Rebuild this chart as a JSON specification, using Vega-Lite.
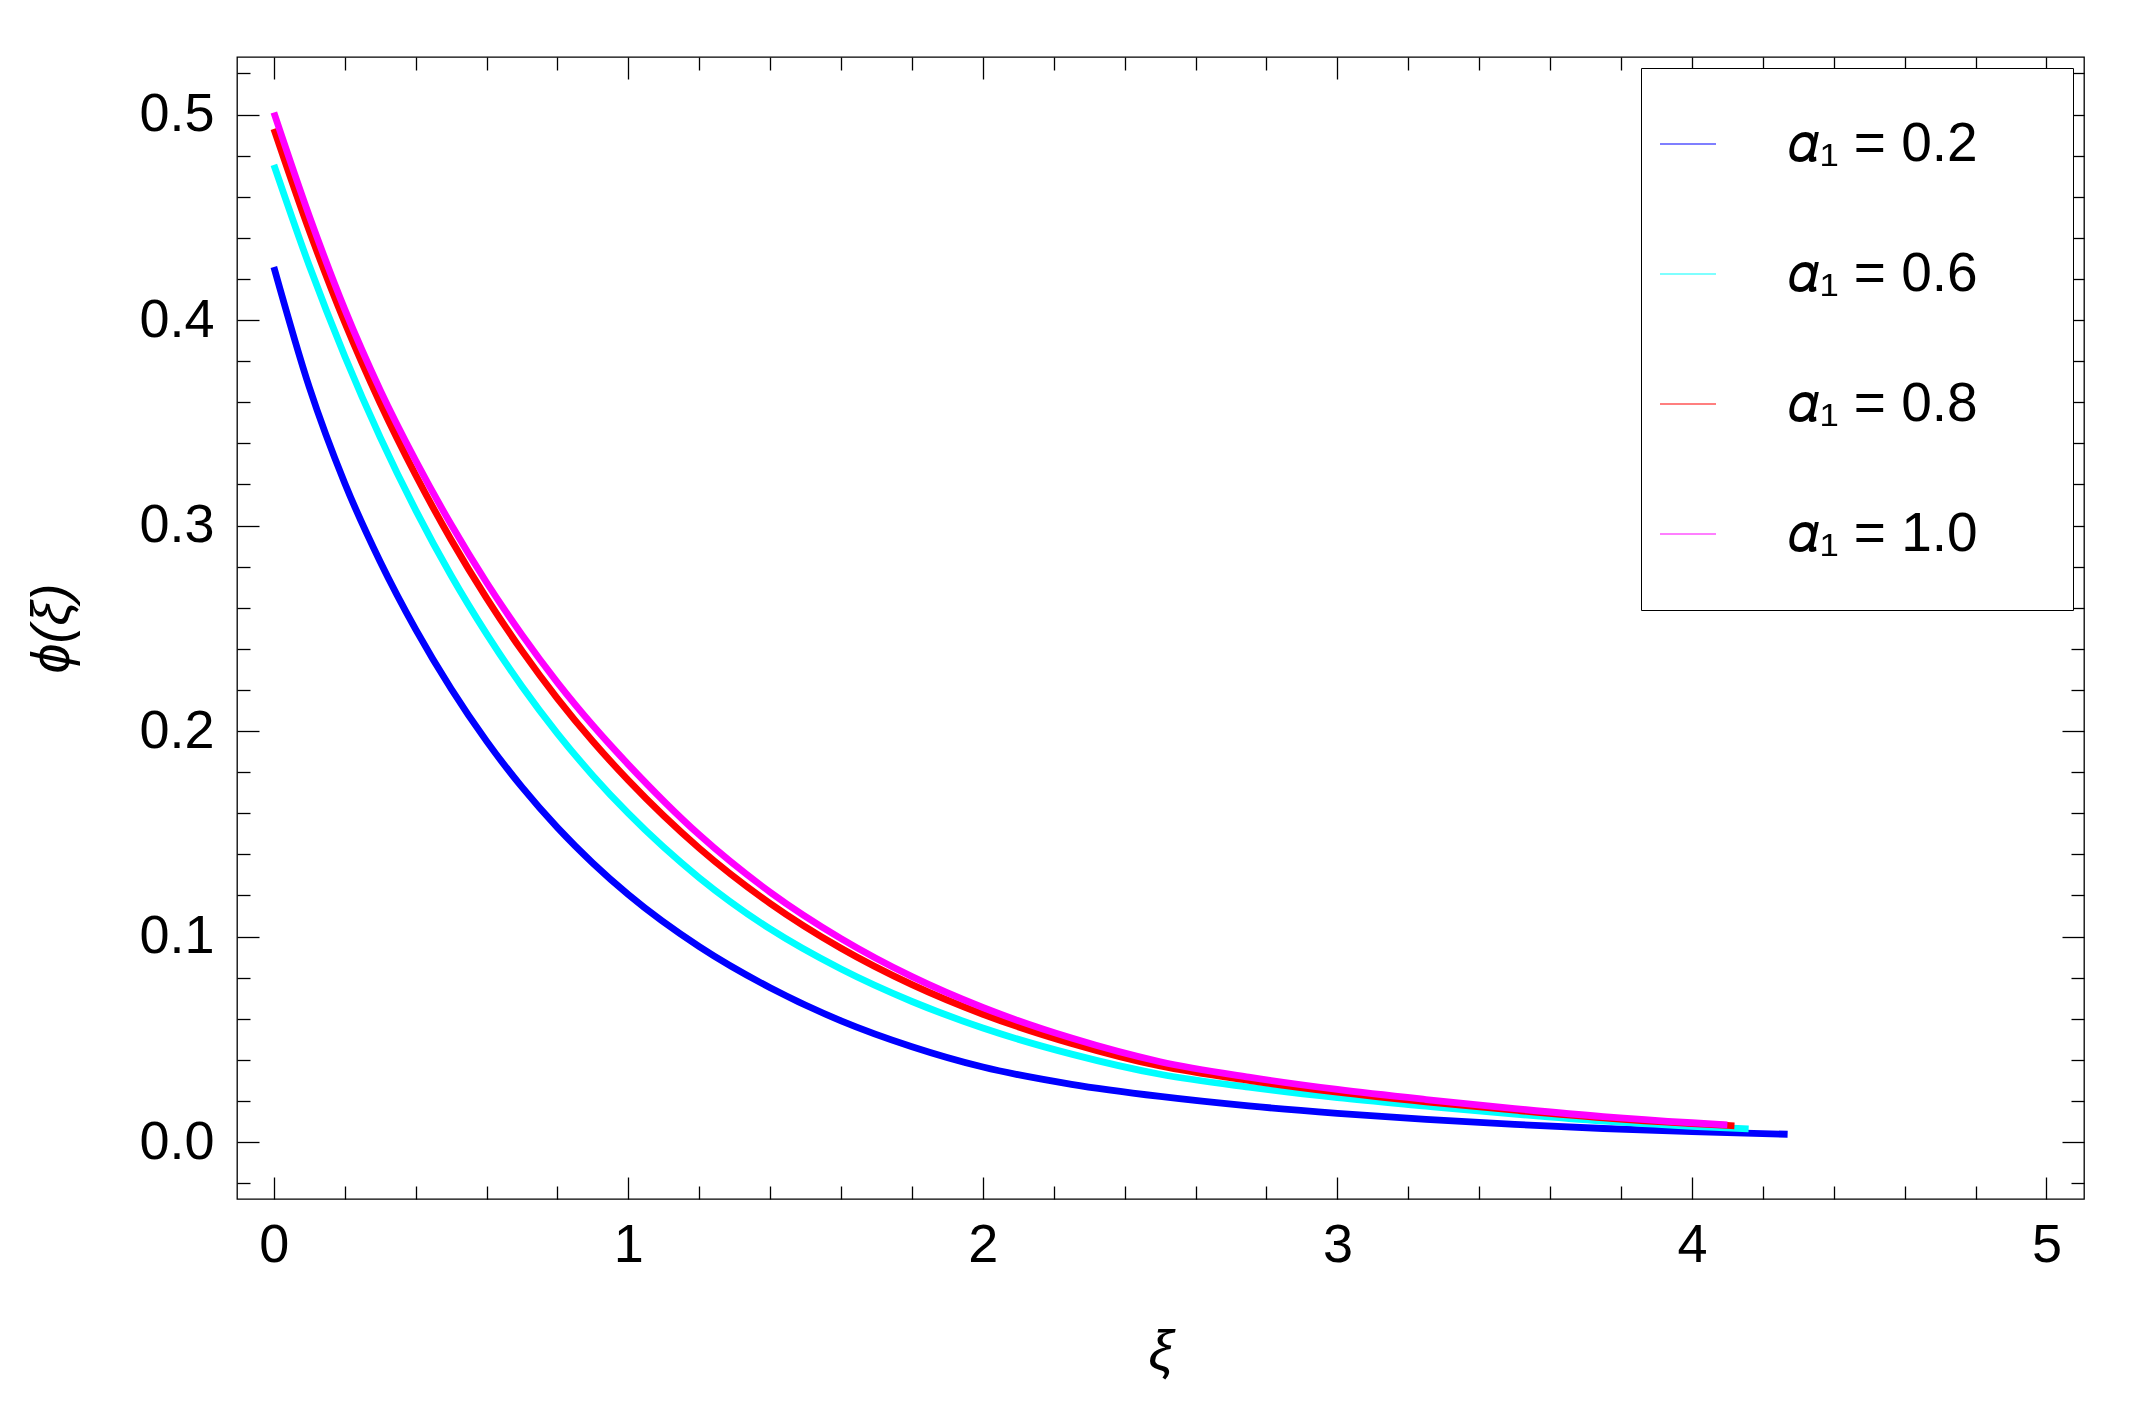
{
  "$schema": "https://vega.github.io/schema/vega-lite/v6.json",
  "width": 1847,
  "height": 1142,
  "autosize": "none",
  "padding": {"left": 237, "top": 57, "right": 67, "bottom": 216},
  "background": "white",
  "config": {
    "view": {"stroke": "black", "strokeWidth": 1.3},
    "axis": {"grid": false, "domain": false, "tickColor": "black", "tickWidth": 1.3, "labelColor": "black", "labelFont": "Liberation Sans", "titleFont": "Liberation Sans", "titleColor": "black"}
  },
  "data": {
    "values": [
      {"series": "𝛼₁ = 0.2", "x": 0, "y": 0.4258}, {"series": "𝛼₁ = 0.2", "x": 0.1, "y": 0.3673}, {"series": "𝛼₁ = 0.2", "x": 0.2, "y": 0.3206}, {"series": "𝛼₁ = 0.2", "x": 0.3, "y": 0.2824}, {"series": "𝛼₁ = 0.2", "x": 0.4, "y": 0.2495}, {"series": "𝛼₁ = 0.2", "x": 0.5, "y": 0.2206}, {"series": "𝛼₁ = 0.2", "x": 0.6, "y": 0.1951}, {"series": "𝛼₁ = 0.2", "x": 0.7, "y": 0.1727}, {"series": "𝛼₁ = 0.2", "x": 0.8, "y": 0.153}, {"series": "𝛼₁ = 0.2", "x": 0.9, "y": 0.1357}, {"series": "𝛼₁ = 0.2", "x": 1.0, "y": 0.1204}, {"series": "𝛼₁ = 0.2", "x": 1.2, "y": 0.0951}, {"series": "𝛼₁ = 0.2", "x": 1.4, "y": 0.0751}, {"series": "𝛼₁ = 0.2", "x": 1.6, "y": 0.059}, {"series": "𝛼₁ = 0.2", "x": 1.8, "y": 0.0464}, {"series": "𝛼₁ = 0.2", "x": 2.0, "y": 0.0365}, {"series": "𝛼₁ = 0.2", "x": 2.25, "y": 0.0281}, {"series": "𝛼₁ = 0.2", "x": 2.5, "y": 0.0222}, {"series": "𝛼₁ = 0.2", "x": 2.75, "y": 0.0176}, {"series": "𝛼₁ = 0.2", "x": 3.0, "y": 0.014}, {"series": "𝛼₁ = 0.2", "x": 3.25, "y": 0.011}, {"series": "𝛼₁ = 0.2", "x": 3.5, "y": 0.0086}, {"series": "𝛼₁ = 0.2", "x": 3.75, "y": 0.0066}, {"series": "𝛼₁ = 0.2", "x": 4.0, "y": 0.0051}, {"series": "𝛼₁ = 0.2", "x": 4.27, "y": 0.0038},
      {"series": "𝛼₁ = 0.6", "x": 0, "y": 0.4755}, {"series": "𝛼₁ = 0.6", "x": 0.1, "y": 0.4264}, {"series": "𝛼₁ = 0.6", "x": 0.2, "y": 0.3824}, {"series": "𝛼₁ = 0.6", "x": 0.3, "y": 0.3429}, {"series": "𝛼₁ = 0.6", "x": 0.4, "y": 0.3075}, {"series": "𝛼₁ = 0.6", "x": 0.5, "y": 0.2757}, {"series": "𝛼₁ = 0.6", "x": 0.6, "y": 0.2473}, {"series": "𝛼₁ = 0.6", "x": 0.7, "y": 0.2217}, {"series": "𝛼₁ = 0.6", "x": 0.8, "y": 0.1988}, {"series": "𝛼₁ = 0.6", "x": 0.9, "y": 0.1783}, {"series": "𝛼₁ = 0.6", "x": 1.0, "y": 0.1599}, {"series": "𝛼₁ = 0.6", "x": 1.2, "y": 0.1286}, {"series": "𝛼₁ = 0.6", "x": 1.4, "y": 0.1037}, {"series": "𝛼₁ = 0.6", "x": 1.6, "y": 0.0842}, {"series": "𝛼₁ = 0.6", "x": 1.8, "y": 0.0684}, {"series": "𝛼₁ = 0.6", "x": 2.0, "y": 0.0555}, {"series": "𝛼₁ = 0.6", "x": 2.25, "y": 0.0428}, {"series": "𝛼₁ = 0.6", "x": 2.5, "y": 0.033}, {"series": "𝛼₁ = 0.6", "x": 2.75, "y": 0.0267}, {"series": "𝛼₁ = 0.6", "x": 3.0, "y": 0.0216}, {"series": "𝛼₁ = 0.6", "x": 3.25, "y": 0.0175}, {"series": "𝛼₁ = 0.6", "x": 3.5, "y": 0.0136}, {"series": "𝛼₁ = 0.6", "x": 3.75, "y": 0.0102}, {"series": "𝛼₁ = 0.6", "x": 4.0, "y": 0.0077}, {"series": "𝛼₁ = 0.6", "x": 4.16, "y": 0.0064},
      {"series": "𝛼₁ = 0.8", "x": 0, "y": 0.493}, {"series": "𝛼₁ = 0.8", "x": 0.1, "y": 0.4434}, {"series": "𝛼₁ = 0.8", "x": 0.2, "y": 0.3988}, {"series": "𝛼₁ = 0.8", "x": 0.3, "y": 0.3595}, {"series": "𝛼₁ = 0.8", "x": 0.4, "y": 0.3246}, {"series": "𝛼₁ = 0.8", "x": 0.5, "y": 0.2931}, {"series": "𝛼₁ = 0.8", "x": 0.6, "y": 0.2647}, {"series": "𝛼₁ = 0.8", "x": 0.7, "y": 0.239}, {"series": "𝛼₁ = 0.8", "x": 0.8, "y": 0.2158}, {"series": "𝛼₁ = 0.8", "x": 0.9, "y": 0.1949}, {"series": "𝛼₁ = 0.8", "x": 1.0, "y": 0.176}, {"series": "𝛼₁ = 0.8", "x": 1.2, "y": 0.143}, {"series": "𝛼₁ = 0.8", "x": 1.4, "y": 0.1161}, {"series": "𝛼₁ = 0.8", "x": 1.6, "y": 0.0943}, {"series": "𝛼₁ = 0.8", "x": 1.8, "y": 0.0766}, {"series": "𝛼₁ = 0.8", "x": 2.0, "y": 0.0622}, {"series": "𝛼₁ = 0.8", "x": 2.25, "y": 0.048}, {"series": "𝛼₁ = 0.8", "x": 2.5, "y": 0.037}, {"series": "𝛼₁ = 0.8", "x": 2.75, "y": 0.03}, {"series": "𝛼₁ = 0.8", "x": 3.0, "y": 0.0243}, {"series": "𝛼₁ = 0.8", "x": 3.25, "y": 0.0196}, {"series": "𝛼₁ = 0.8", "x": 3.5, "y": 0.0155}, {"series": "𝛼₁ = 0.8", "x": 3.75, "y": 0.0118}, {"series": "𝛼₁ = 0.8", "x": 4.0, "y": 0.009}, {"series": "𝛼₁ = 0.8", "x": 4.12, "y": 0.0079},
      {"series": "𝛼₁ = 1.0", "x": 0, "y": 0.501}, {"series": "𝛼₁ = 1.0", "x": 0.1, "y": 0.4506}, {"series": "𝛼₁ = 1.0", "x": 0.2, "y": 0.4052}, {"series": "𝛼₁ = 1.0", "x": 0.3, "y": 0.3659}, {"series": "𝛼₁ = 1.0", "x": 0.4, "y": 0.3316}, {"series": "𝛼₁ = 1.0", "x": 0.5, "y": 0.3005}, {"series": "𝛼₁ = 1.0", "x": 0.6, "y": 0.2723}, {"series": "𝛼₁ = 1.0", "x": 0.7, "y": 0.2468}, {"series": "𝛼₁ = 1.0", "x": 0.8, "y": 0.2236}, {"series": "𝛼₁ = 1.0", "x": 0.9, "y": 0.2027}, {"series": "𝛼₁ = 1.0", "x": 1.0, "y": 0.1837}, {"series": "𝛼₁ = 1.0", "x": 1.2, "y": 0.1495}, {"series": "𝛼₁ = 1.0", "x": 1.4, "y": 0.1216}, {"series": "𝛼₁ = 1.0", "x": 1.6, "y": 0.099}, {"series": "𝛼₁ = 1.0", "x": 1.8, "y": 0.0805}, {"series": "𝛼₁ = 1.0", "x": 2.0, "y": 0.0655}, {"series": "𝛼₁ = 1.0", "x": 2.25, "y": 0.0506}, {"series": "𝛼₁ = 1.0", "x": 2.5, "y": 0.0391}, {"series": "𝛼₁ = 1.0", "x": 2.75, "y": 0.0316}, {"series": "𝛼₁ = 1.0", "x": 3.0, "y": 0.0256}, {"series": "𝛼₁ = 1.0", "x": 3.25, "y": 0.0207}, {"series": "𝛼₁ = 1.0", "x": 3.5, "y": 0.0163}, {"series": "𝛼₁ = 1.0", "x": 3.75, "y": 0.0124}, {"series": "𝛼₁ = 1.0", "x": 4.0, "y": 0.0094}, {"series": "𝛼₁ = 1.0", "x": 4.1, "y": 0.0084}
    ]
  },
  "resolve": {"axis": {"x": "independent", "y": "independent"}},
  "layer": [
    {
      "mark": {"type": "line", "strokeWidth": 6.8, "interpolate": "monotone", "strokeCap": "butt", "strokeJoin": "round"},
      "encoding": {
        "x": {"field": "x", "type": "quantitative", "scale": {"domain": [-0.104, 5.106], "nice": false, "zero": false},
          "axis": {"orient": "bottom", "values": [0, 1, 2, 3, 4, 5], "format": "d", "tickSize": -22, "labelFontSize": 54, "labelPadding": 41, "title": "ξ", "titleFontSize": 56, "titleFontStyle": "italic", "titleFontWeight": "normal", "titlePadding": 52}},
        "y": {"field": "y", "type": "quantitative", "scale": {"domain": [-0.0277, 0.528], "nice": false, "zero": false},
          "axis": {"orient": "left", "values": [0, 0.1, 0.2, 0.3, 0.4, 0.5], "format": ".1f", "tickSize": -22, "labelFontSize": 54, "labelPadding": 45, "title": "ϕ(ξ)", "titleFontSize": 54, "titleFontStyle": "italic", "titleFontWeight": "normal", "titlePadding": 59}},
        "color": {"field": "series", "type": "nominal",
          "scale": {"domain": ["𝛼₁ = 0.2", "𝛼₁ = 0.6", "𝛼₁ = 0.8", "𝛼₁ = 1.0"], "range": ["#0000FF", "#00FFFF", "#FF0000", "#FF00FF"]},
          "legend": {"title": null, "orient": "top-right", "offset": 11, "padding": 18, "clipHeight": 116, "rowPadding": 14, "symbolType": "stroke", "symbolSize": 3136, "symbolStrokeWidth": 1.2, "labelOffset": 71, "labelFontSize": 55, "labelFont": "Liberation Sans", "labelColor": "black", "labelLimit": 0, "strokeColor": "black", "fillColor": "white", "labelExpr": "datum.label + '\u2007\u2007\u2009\u200a\u200b'"}}
      }
    },
    {
      "mark": {"type": "point", "opacity": 0},
      "encoding": {
        "x": {"field": "x", "type": "quantitative", "scale": {"domain": [-0.104, 5.106], "nice": false, "zero": false},
          "axis": {"orient": "bottom", "values": [0.2, 0.4, 0.6, 0.8, 1.2, 1.4, 1.6, 1.8, 2.2, 2.4, 2.6, 2.8, 3.2, 3.4, 3.6, 3.8, 4.2, 4.4, 4.6, 4.8], "tickSize": -13, "labels": false, "title": null}},
        "y": {"field": "y", "type": "quantitative", "scale": {"domain": [-0.0277, 0.528], "nice": false, "zero": false},
          "axis": {"orient": "left", "values": [-0.02, 0.02, 0.04, 0.06, 0.08, 0.12, 0.14, 0.16, 0.18, 0.22, 0.24, 0.26, 0.28, 0.32, 0.34, 0.36, 0.38, 0.42, 0.44, 0.46, 0.48, 0.52], "tickSize": -13, "labels": false, "title": null}}
      }
    },
    {
      "mark": {"type": "point", "opacity": 0},
      "encoding": {
        "x": {"field": "x", "type": "quantitative", "scale": {"domain": [-0.104, 5.106], "nice": false, "zero": false},
          "axis": {"orient": "top", "values": [0, 1, 2, 3, 4, 5], "tickSize": -22, "labels": false, "title": null}},
        "y": {"field": "y", "type": "quantitative", "scale": {"domain": [-0.0277, 0.528], "nice": false, "zero": false},
          "axis": {"orient": "right", "values": [0, 0.1, 0.2, 0.3, 0.4, 0.5], "tickSize": -22, "labels": false, "title": null}}
      }
    },
    {
      "mark": {"type": "point", "opacity": 0},
      "encoding": {
        "x": {"field": "x", "type": "quantitative", "scale": {"domain": [-0.104, 5.106], "nice": false, "zero": false},
          "axis": {"orient": "top", "values": [0.2, 0.4, 0.6, 0.8, 1.2, 1.4, 1.6, 1.8, 2.2, 2.4, 2.6, 2.8, 3.2, 3.4, 3.6, 3.8, 4.2, 4.4, 4.6, 4.8], "tickSize": -13, "labels": false, "title": null}},
        "y": {"field": "y", "type": "quantitative", "scale": {"domain": [-0.0277, 0.528], "nice": false, "zero": false},
          "axis": {"orient": "right", "values": [-0.02, 0.02, 0.04, 0.06, 0.08, 0.12, 0.14, 0.16, 0.18, 0.22, 0.24, 0.26, 0.28, 0.32, 0.34, 0.36, 0.38, 0.42, 0.44, 0.46, 0.48, 0.52], "tickSize": -13, "labels": false, "title": null}}
      }
    }
  ]
}
